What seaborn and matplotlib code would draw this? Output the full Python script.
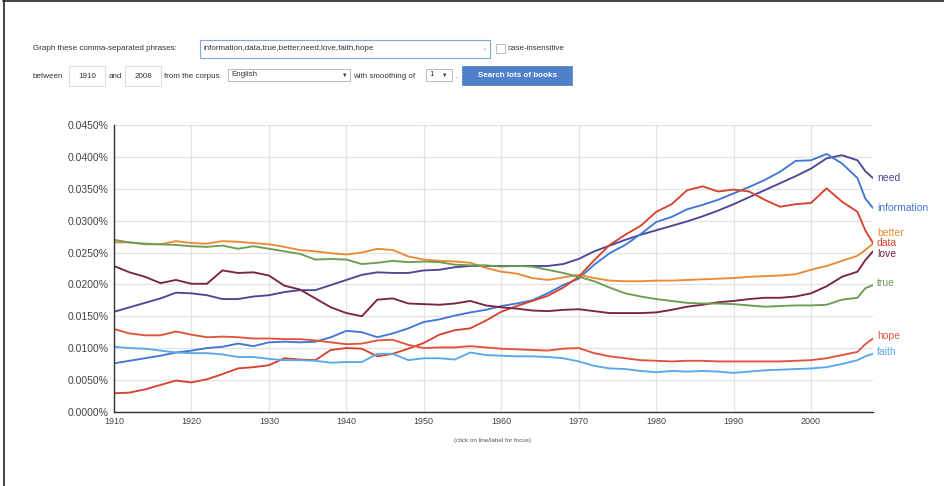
import pandas as pd
import matplotlib.pyplot as plt
import seaborn as sns
from matplotlib.patches import Rectangle
from matplotlib.ticker import FuncFormatter

# Years (every 2 years, plus 2007 to catch the last jump)
years = list(range(1910, 2008, 2)) + [2007, 2008]

# Values in percent
need = [0.0157, 0.0164, 0.0171, 0.0178, 0.0187, 0.0186, 0.0183, 0.0177, 0.0177, 0.0181,
        0.0183, 0.0188, 0.0191, 0.0191, 0.0199, 0.0207, 0.0215, 0.0219, 0.0218, 0.0218,
        0.0222, 0.0223, 0.0227, 0.0229, 0.0229, 0.0229, 0.0229, 0.0229, 0.0229, 0.0232,
        0.0240, 0.0252, 0.0261, 0.0270, 0.0278, 0.0285, 0.0292, 0.0299, 0.0307, 0.0316,
        0.0326, 0.0337, 0.0348, 0.0359, 0.0370, 0.0382, 0.0398, 0.0403, 0.0395, 0.0378, 0.0367]
information = [0.0076, 0.0080, 0.0084, 0.0088, 0.0093, 0.0096, 0.0100, 0.0102, 0.0107, 0.0103,
               0.0109, 0.0110, 0.0109, 0.0110, 0.0117, 0.0127, 0.0125, 0.0117, 0.0123, 0.0131,
               0.0141, 0.0145, 0.0151, 0.0156, 0.0160, 0.0166, 0.0170, 0.0175, 0.0186, 0.0199,
               0.0209, 0.0231, 0.0249, 0.0262, 0.0279, 0.0298, 0.0306, 0.0318, 0.0325, 0.0333,
               0.0343, 0.0353, 0.0364, 0.0377, 0.0394, 0.0395, 0.0405, 0.0390, 0.0367, 0.0335, 0.0320]
better = [0.0266, 0.0266, 0.0263, 0.0263, 0.0268, 0.0265, 0.0264, 0.0268, 0.0267, 0.0265,
          0.0263, 0.0259, 0.0254, 0.0252, 0.0249, 0.0247, 0.0250, 0.0256, 0.0254, 0.0244,
          0.0239, 0.0237, 0.0236, 0.0234, 0.0226, 0.0220, 0.0217, 0.0210, 0.0207, 0.0211,
          0.0215, 0.0210, 0.0206, 0.0205, 0.0205, 0.0206, 0.0206, 0.0207, 0.0208, 0.0209,
          0.0210, 0.0212, 0.0213, 0.0214, 0.0216, 0.0223, 0.0229, 0.0237, 0.0245, 0.0254, 0.0264]
data = [0.0029, 0.0030, 0.0035, 0.0042, 0.0049, 0.0046, 0.0051, 0.0059, 0.0068, 0.0070,
        0.0073, 0.0084, 0.0082, 0.0081, 0.0097, 0.0100, 0.0099, 0.0087, 0.0091, 0.0099,
        0.0108, 0.0121, 0.0128, 0.0131, 0.0143, 0.0157, 0.0166, 0.0174, 0.0182, 0.0195,
        0.0212, 0.0238, 0.0262, 0.0278, 0.0292, 0.0314, 0.0326, 0.0348, 0.0354, 0.0346,
        0.0349, 0.0346, 0.0333, 0.0322, 0.0326, 0.0328, 0.0351, 0.0330, 0.0314, 0.0285, 0.0265]
love = [0.0229, 0.0219, 0.0212, 0.0202, 0.0207, 0.0201, 0.0201, 0.0222, 0.0218, 0.0219,
        0.0214, 0.0198, 0.0192, 0.0178, 0.0164, 0.0155, 0.0150, 0.0176, 0.0178, 0.0170,
        0.0169, 0.0168, 0.0170, 0.0174, 0.0167, 0.0164, 0.0162, 0.0159, 0.0158, 0.0160,
        0.0161, 0.0158, 0.0155, 0.0155, 0.0155, 0.0156, 0.0160, 0.0165, 0.0168, 0.0172,
        0.0174, 0.0177, 0.0179, 0.0179, 0.0181, 0.0186, 0.0197, 0.0212, 0.0220, 0.0238, 0.0252]
true = [0.0270, 0.0266, 0.0264, 0.0263, 0.0262, 0.0260, 0.0259, 0.0261, 0.0256, 0.0260,
        0.0256, 0.0252, 0.0248, 0.0239, 0.0240, 0.0239, 0.0232, 0.0234, 0.0237, 0.0235,
        0.0236, 0.0235, 0.0231, 0.0230, 0.0230, 0.0228, 0.0229, 0.0228, 0.0223, 0.0218,
        0.0212, 0.0205, 0.0195, 0.0186, 0.0181, 0.0177, 0.0174, 0.0171, 0.0170, 0.0170,
        0.0169, 0.0167, 0.0165, 0.0166, 0.0167, 0.0167, 0.0168, 0.0176, 0.0179, 0.0194, 0.0199]
hope = [0.0130, 0.0123, 0.0120, 0.0120, 0.0126, 0.0121, 0.0117, 0.0118, 0.0117, 0.0115,
        0.0115, 0.0114, 0.0114, 0.0112, 0.0109, 0.0106, 0.0107, 0.0112, 0.0113, 0.0105,
        0.0100, 0.0101, 0.0101, 0.0103, 0.0101, 0.0099, 0.0098, 0.0097, 0.0096, 0.0099,
        0.0100, 0.0092, 0.0087, 0.0084, 0.0081, 0.0080, 0.0079, 0.0080, 0.0080, 0.0079,
        0.0079, 0.0079, 0.0079, 0.0079, 0.0080, 0.0081, 0.0084, 0.0089, 0.0094, 0.0106, 0.0115]
faith = [0.0102, 0.0100, 0.0099, 0.0096, 0.0093, 0.0092, 0.0092, 0.0090, 0.0086, 0.0086,
         0.0083, 0.0081, 0.0081, 0.0080, 0.0077, 0.0078, 0.0078, 0.0091, 0.0091, 0.0081,
         0.0084, 0.0084, 0.0082, 0.0093, 0.0089, 0.0088, 0.0087, 0.0087, 0.0086, 0.0084,
         0.0079, 0.0072, 0.0068, 0.0067, 0.0064, 0.0062, 0.0064, 0.0063, 0.0064, 0.0063,
         0.0061, 0.0063, 0.0065, 0.0066, 0.0067, 0.0068, 0.0070, 0.0075, 0.0081, 0.0087, 0.0091]

series = {'need': need, 'information': information, 'better': better, 'data': data,
          'love': love, 'true': true, 'hope': hope, 'faith': faith}
colors = {'need': '#4b4796', 'information': '#4277d6', 'better': '#ec8a34', 'data': '#d6432f',
          'love': '#7a2348', 'true': '#6d9c52', 'hope': '#e0553a', 'faith': '#5aa8ea'}
# nudge for labels that would overlap at the right edge
label_nudge = {'better': 0.0017, 'love': -0.0004, 'true': 0.0003, 'hope': 0.0004, 'faith': 0.0003}

rows = []
for name, vals in series.items():
    for yr, v in zip(years, vals):
        rows.append({'year': yr, 'value': v, 'phrase': name})
df = pd.DataFrame(rows)

sns.set_style("white")
plt.rcParams['font.family'] = ['Liberation Sans', 'DejaVu Sans']

fig = plt.figure(figsize=(9.44, 4.86), dpi=100)
W, H = 944, 486

def fx(px):
    return px / W

def fy(py):
    return 1 - py / H

# screenshot frame (top and left edges)
fig.add_artist(plt.Line2D([fx(3), fx(944)], [fy(1.5), fy(1.5)], color='#222222', lw=1.2))
fig.add_artist(plt.Line2D([fx(3.5), fx(3.5)], [fy(0), fy(486)], color='#222222', lw=1.2))

# query form
txt = dict(fontsize=5.8, color='#333333', va='center')
fig.text(fx(33), fy(48), 'Graph these comma-separated phrases:', **txt)
fig.add_artist(Rectangle((fx(200), fy(58)), fx(290), 18 / H, fc='white', ec='#7fa6dd', lw=0.8))
fig.text(fx(204), fy(49), 'information,data,true,better,need,love,faith,hope', **txt)
fig.text(fx(482), fy(49), '⌄', fontsize=5, color='#aaaaaa', va='center')
fig.add_artist(Rectangle((fx(496), fy(53)), fx(9), 9 / H, fc='white', ec='#bbbbbb', lw=0.7))
fig.text(fx(508), fy(48), 'case-insensitive', **txt)

fig.text(fx(33), fy(76), 'between', **txt)
fig.add_artist(Rectangle((fx(69), fy(86)), fx(36), 20 / H, fc='white', ec='#dddddd', lw=0.7))
fig.text(fx(87), fy(76), '1910', ha='center', **txt)
fig.text(fx(109), fy(76), 'and', **txt)
fig.add_artist(Rectangle((fx(125), fy(86)), fx(36), 20 / H, fc='white', ec='#dddddd', lw=0.7))
fig.text(fx(143), fy(76), '2008', ha='center', **txt)
fig.text(fx(164), fy(76), 'from the corpus', **txt)
fig.add_artist(Rectangle((fx(228), fy(81)), fx(122), 12 / H, fc='white', ec='#bbbbbb', lw=0.7))
fig.text(fx(231), fy(75), 'English', **txt)
fig.text(fx(342), fy(75), '▼', fontsize=4, color='#333333', va='center')
fig.text(fx(353), fy(76), 'with smoothing of', **txt)
fig.add_artist(Rectangle((fx(426), fy(81)), fx(26), 12 / H, fc='white', ec='#bbbbbb', lw=0.7))
fig.text(fx(429), fy(75), '1', **txt)
fig.text(fx(442), fy(75), '▼', fontsize=4, color='#333333', va='center')
fig.text(fx(454), fy(76), '.', **txt)
fig.add_artist(Rectangle((fx(462), fy(85)), fx(110), 19 / H, fc='#4f80c9', ec='#4f80c9', lw=0.5))
fig.text(fx(517), fy(75.5), 'Search lots of books', ha='center', va='center', fontsize=5.8,
         color='white', fontweight='bold')

# chart
ax = fig.add_axes([fx(114), fy(411.7), fx(873 - 114), (411.7 - 125.3) / H])
sns.lineplot(data=df, x='year', y='value', hue='phrase', palette=colors, linewidth=1.35,
             legend=False, ax=ax)

ax.set_xlim(1910, 2008)
ax.set_ylim(0, 0.045)
ax.set_xticks(range(1910, 2010, 10))
ax.set_yticks([i * 0.005 for i in range(10)])
ax.yaxis.set_major_formatter(FuncFormatter(lambda v, p: f'{v:.4f}%'))
ax.grid(True, color='#e3e3e3', lw=0.9)
ax.set_axisbelow(True)
for s in ['top', 'right']:
    ax.spines[s].set_visible(False)
for s in ['left', 'bottom']:
    ax.spines[s].set_color('#333333')
    ax.spines[s].set_linewidth(1.0)
ax.tick_params(axis='y', length=3, width=0.8, color='#333333', labelsize=7.5, labelcolor='#444444', pad=1)
ax.tick_params(axis='x', length=3, width=0.8, color='#333333', labelsize=6.5, labelcolor='#444444', pad=1)
ax.set_xlabel('')
ax.set_ylabel('')

# labels at the right end of each line
for name, vals in series.items():
    ax.text(2008.5, vals[-1] + label_nudge.get(name, 0), name, color=colors[name],
            fontsize=7.5, va='center', ha='left', clip_on=False)

fig.text(fx(493), fy(440), '(click on line/label for focus)', ha='center', va='center',
         fontsize=4.5, color='#555555')

plt.savefig('out.png', dpi=100)
